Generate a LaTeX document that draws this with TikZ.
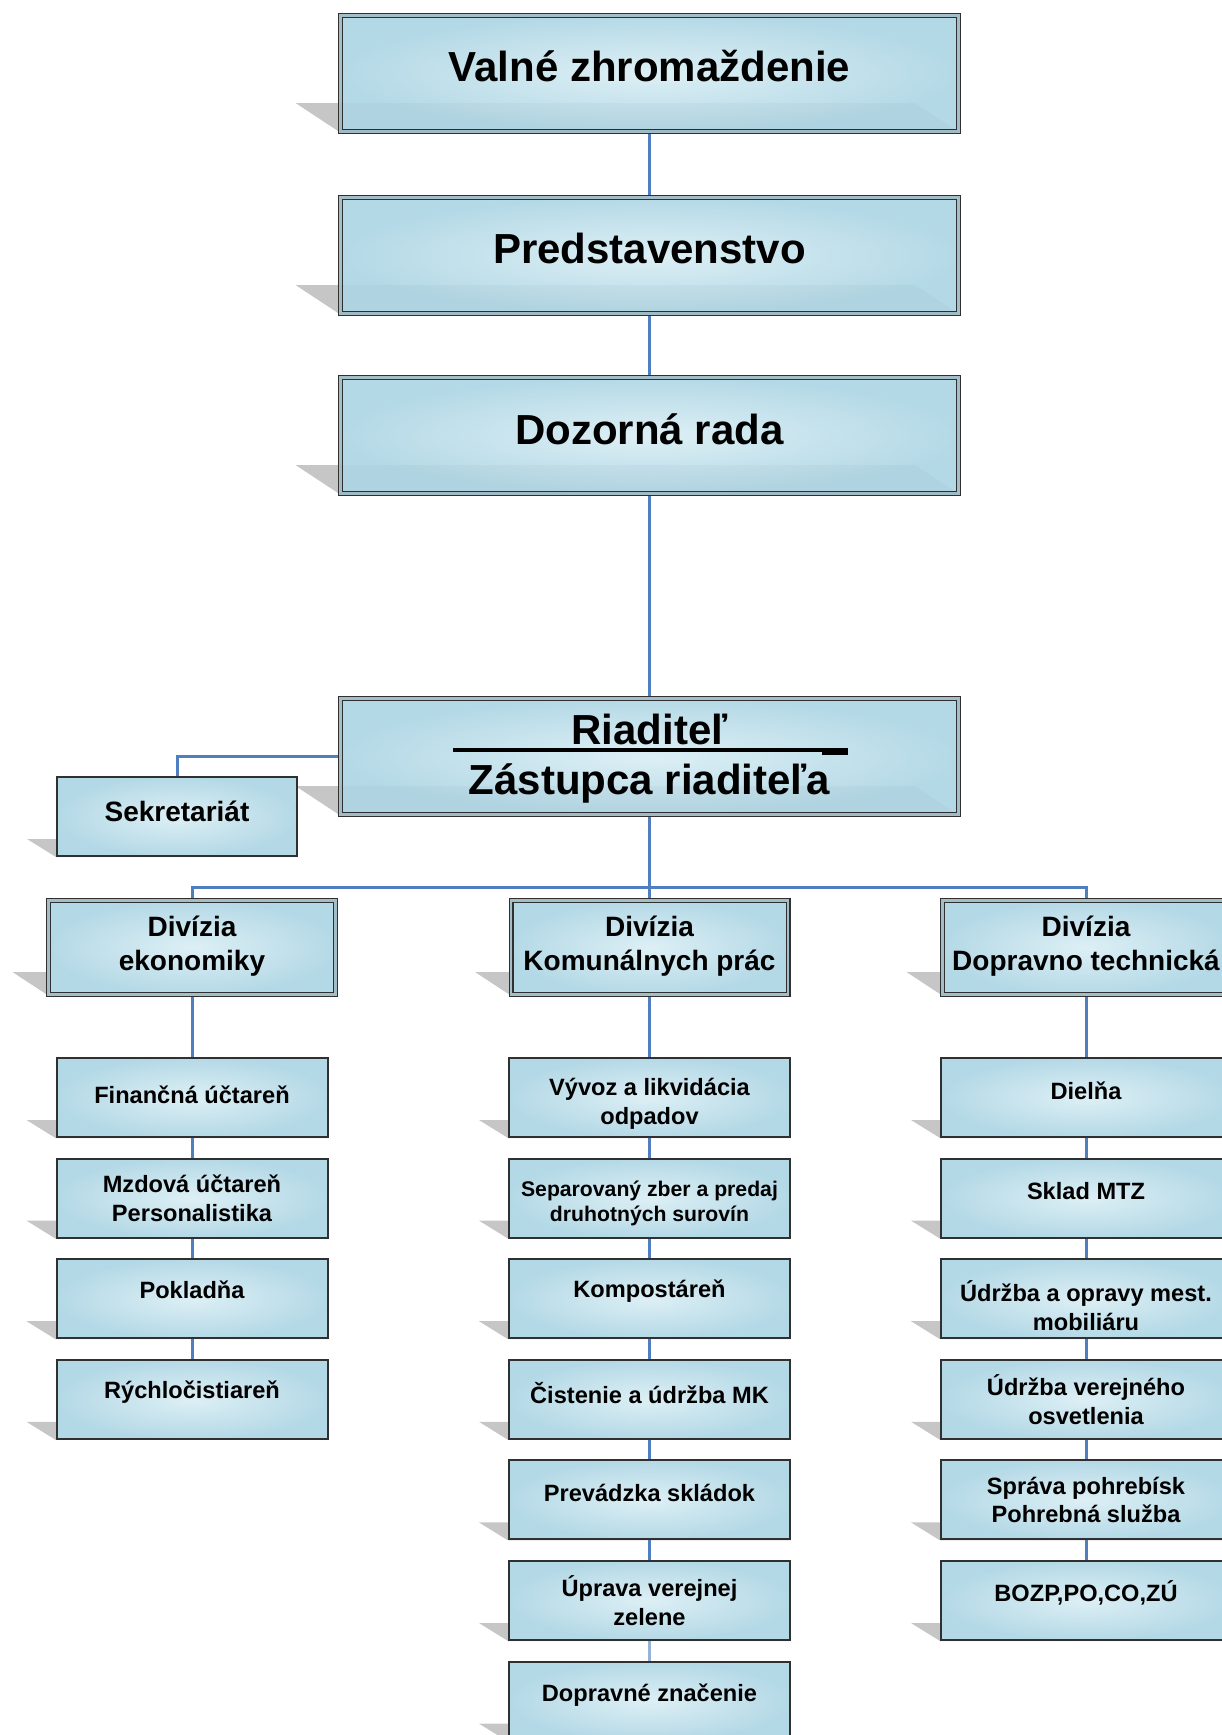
\documentclass[tikz,border=0pt]{standalone}
\usepackage{fontspec}
\setmainfont{Liberation Sans}
\pgfdeclarelayer{bg}
\pgfsetlayers{bg,main}
\definecolor{boxin}{HTML}{DDEFF5}
\definecolor{boxout}{HTML}{B4D9E6}
\definecolor{border}{HTML}{303030}
\definecolor{linec}{HTML}{4F7FC0}
\definecolor{shadowc}{HTML}{C6C6C6}
\newcommand\shad[3]{%
  \begin{pgfonlayer}{bg}
    \fill[shadowc] (#1.south west) -- ([xshift=-#2pt,yshift=#3pt]#1.south west)
      -- ([xshift=-#2pt,yshift=#3pt]#1.south east) -- (#1.south east) -- cycle;
  \end{pgfonlayer}}
\newcommand\band[3]{%
  \fill[black,opacity=0.025] (#1.south west) -- ([yshift=#3pt]#1.south west)
    -- ([xshift=-#2pt,yshift=#3pt]#1.south east) -- (#1.south east) -- cycle;}
\begin{document}
\begin{tikzpicture}[x=0.5pt,y=-0.5pt,
  box/.style={rectangle, inner color=boxin, outer color=boxout, inner sep=0pt},
  dbl/.style={draw=border, line width=0.7pt, double=boxout!70!gray, double distance=1.1pt},
  bigbox/.style={box, dbl, minimum width=309pt, minimum height=58pt},
  divbox/.style={box, dbl, minimum height=47pt},
  subbox/.style={box, draw=border, line width=1pt, minimum height=39.5pt},
  txt/.style={align=center, inner sep=0pt, text=black},
  bigtxt/.style={txt, font=\fontsize{21}{26}\selectfont\bfseries},
  divtxt/.style={txt, font=\fontsize{14}{17}\selectfont\bfseries},
  subtxt/.style={txt, font=\fontsize{11.8}{14.4}\selectfont\bfseries},
  smalltxt/.style={txt, font=\fontsize{10.6}{12.2}\selectfont\bfseries},
  conn/.style={draw=linec, line width=1.5pt},
]
\useasboundingbox (0,0) rectangle (1221,1735);

% ---------- top boxes ----------
\node[bigbox] (vz) at (649.5,73.5) {};
\band{vz}{22}{14.5}
\node[bigtxt] (vzt) at (649.5,66.4) {Valné zhromaždenie};

\node[bigbox] (pr) at (649.5,255.5) {};
\band{pr}{22}{14.5}
\node[bigtxt] (prt) at (649.5,248) {Predstavenstvo};

\node[bigbox] (dr) at (649.5,435.5) {};
\band{dr}{22}{14.5}
\node[bigtxt] (drt) at (649.5,429.5) {Dozorná rada};

\node[bigbox] (ri) at (649.5,756.5) {};
\band{ri}{22}{14.5}
\node[bigtxt] (rit1) at (649.5,729.5) {Riaditeľ};
\node[bigtxt] (rit2) at (649.5,783.5) {Zástupca riaditeľa};
\draw[black, line width=1.7pt] (453,750) -- (848,750);
\draw[black, line width=3pt] (822,751.5) -- (848,751.5);

\node[subbox, minimum width=120pt] (sek) at (177,816.5) {};
\node[divtxt] (sekt) at (177,811.5) {Sekretariát};

% ---------- divisions ----------
\node[divbox, minimum width=143.5pt] (dl) at (192,947.5) {};
\node[divtxt] (dlt) at (192,946) {Divízia\\ekonomiky};
\node[divbox, minimum width=138.5pt] (dm) at (649.5,947.5) {};
\node[divtxt] (dmt) at (649.5,946) {Divízia\\Komunálnych prác};
\node[divbox, minimum width=143.5pt] (dp) at (1086,947.5) {};
\node[divtxt] (dpt) at (1086,946) {Divízia\\Dopravno technická};

% ---------- left column ----------
\node[subbox, minimum width=135.5pt] (l1) at (192,1097.5) {};
\node[subtxt] (l1t) at (192,1094.5) {Finančná účtareň};
\node[subbox, minimum width=135.5pt] (l2) at (192,1198.1) {};
\node[subtxt] (l2t) at (192,1198.1) {Mzdová účtareň\\Personalistika};
\node[subbox, minimum width=135.5pt] (l3) at (192,1298.7) {};
\node[subtxt] (l3t) at (192,1290) {Pokladňa};
\node[subbox, minimum width=135.5pt] (l4) at (192,1399.3) {};
\node[subtxt] (l4t) at (192,1391.7) {Rýchločistiareň};

% ---------- middle column ----------
\node[subbox, minimum width=140.5pt] (m1) at (649.5,1097.5) {};
\node[subtxt] (m1t) at (649.5,1104.1) {Vývoz a likvidácia\\odpadov};
\node[subbox, minimum width=140.5pt] (m2) at (649.5,1198.1) {};
\node[smalltxt] (m2t) at (649.5,1203.6) {Separovaný zber a predaj\\druhotných surovín};
\node[subbox, minimum width=140.5pt] (m3) at (649.5,1298.7) {};
\node[subtxt] (m3t) at (649.5,1291) {Kompostáreň};
\node[subbox, minimum width=140.5pt] (m4) at (649.5,1399.3) {};
\node[subtxt] (m4t) at (649.5,1392.7) {Čistenie a údržba MK};
\node[subbox, minimum width=140.5pt] (m5) at (649.5,1499.9) {};
\node[subtxt] (m5t) at (649.5,1493.3) {Prevádzka skládok};
\node[subbox, minimum width=140.5pt] (m6) at (649.5,1600.5) {};
\node[subtxt] (m6t) at (649.5,1600.5) {Úprava verejnej\\zelene};
\node[subbox, minimum width=140.5pt] (m7) at (649.5,1701.1) {};
\node[subtxt] (m7t) at (649.5,1695.1) {Dopravné značenie};

% ---------- right column ----------
\node[subbox, minimum width=145pt] (r1) at (1086,1097.5) {};
\node[subtxt] (r1t) at (1086,1090.3) {Dielňa};
\node[subbox, minimum width=145pt] (r2) at (1086,1198.1) {};
\node[subtxt] (r2t) at (1086,1191.5) {Sklad MTZ};
\node[subbox, minimum width=145pt] (r3) at (1086,1298.7) {};
\node[subtxt] (r3t) at (1086,1305.3) {Údržba a opravy mest.\\mobiliáru};
\node[subbox, minimum width=145pt] (r4) at (1086,1399.3) {};
\node[subtxt] (r4t) at (1086,1399.3) {Údržba verejného\\osvetlenia};
\node[subbox, minimum width=145pt] (r5) at (1086,1499.9) {};
\node[subtxt] (r5t) at (1086,1499.9) {Správa pohrebísk\\Pohrebná služba};
\node[subbox, minimum width=145pt] (r6) at (1086,1600.5) {};
\node[subtxt] (r6t) at (1086,1592.8) {BOZP,PO,CO,ZÚ};

% ---------- shadows ----------
\foreach \n in {vz,pr,dr,ri} {\shad{\n}{22}{14.5}}
\foreach \n in {dl,dm,dp} {\shad{\n}{17.5}{11.5}}
\foreach \n in {sek,l1,l2,l3,l4,m1,m2,m3,m4,m5,m6,m7,r1,r2,r3,r4,r5,r6} {\shad{\n}{14.5}{9}}

% ---------- connectors ----------
\coordinate (bus) at (649.5,887);
\begin{pgfonlayer}{bg}
\draw[conn] (vz.south) -- (pr.north);
\draw[conn] (pr.south) -- (dr.north);
\draw[conn] (dr.south) -- (ri.north);
\draw[conn] (ri.west) -| (sek.north);
\draw[conn] (ri.south) -- (dm.north);
\draw[conn] (dl.north) |- (bus) -| (dp.north);
\draw[conn] (dl.south) -- (l1.north);
\draw[conn] (l1.south) -- (l2.north);
\draw[conn] (l2.south) -- (l3.north);
\draw[conn] (l3.south) -- (l4.north);
\draw[conn] (dm.south) -- (m1.north);
\draw[conn] (m1.south) -- (m2.north);
\draw[conn] (m2.south) -- (m3.north);
\draw[conn] (m3.south) -- (m4.north);
\draw[conn] (m4.south) -- (m5.north);
\draw[conn] (m5.south) -- (m6.north);
\draw[conn, draw=linec!60!white] (m6.south) -- (m7.north);
\draw[conn] (dp.south) -- (r1.north);
\draw[conn] (r1.south) -- (r2.north);
\draw[conn] (r2.south) -- (r3.north);
\draw[conn] (r3.south) -- (r4.north);
\draw[conn] (r4.south) -- (r5.north);
\draw[conn] (r5.south) -- (r6.north);
\end{pgfonlayer}
\end{tikzpicture}
\end{document}
